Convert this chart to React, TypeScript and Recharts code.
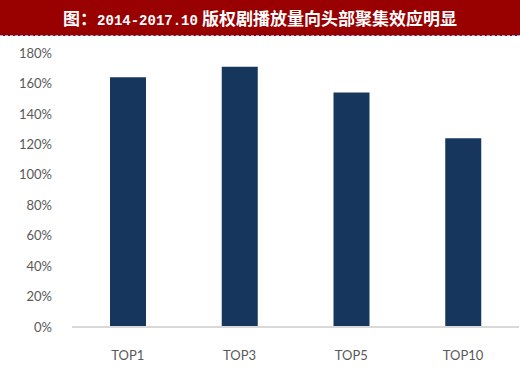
import { BarChart, Bar, XAxis, YAxis } from "recharts";

const categories = ["TOP1", "TOP3", "TOP5", "TOP10"];
const shareValues = [164, 171, 154, 124];
const yTicks = [0, 20, 40, 60, 80, 100, 120, 140, 160, 180];
const titleHead = "图：";
const titleYears = "2014-2017.10";
const titleTail = "版权剧播放量向头部聚集效应明显";

const data = categories.map((name, i) => ({ name, value: shareValues[i] }));

const tickStyle = { fill: "#595959", fontSize: 13, fontFamily: "Lato, 'Open Sans', sans-serif" };

export default function App() {
  return (
    <div
      style={{
        position: "absolute",
        left: 0,
        top: 0,
        width: 520,
        height: 372,
        background: "#fff",
      }}
    >
      <div
        style={{
          height: 35,
          background: "#990000",
          borderBottom: "1px dashed #8fb4e3",
          color: "#fff",
          fontFamily: "'Noto Sans CJK SC', sans-serif",
          fontWeight: 700,
          fontSize: 17,
          lineHeight: "35px",
          textAlign: "center",
          whiteSpace: "nowrap",
        }}
      >
        {titleHead}
        <span
          style={{
            fontFamily: "'Liberation Mono', 'DejaVu Sans Mono', monospace",
            fontSize: 14,
            marginRight: 4,
          }}
        >
          {titleYears}
        </span>
        {titleTail}
      </div>
      <BarChart
        width={520}
        height={336}
        data={data}
        margin={{ top: 17, right: 1, left: 0, bottom: 0 }}
      >
        <XAxis
          dataKey="name"
          height={45}
          tickSize={0}
          tickMargin={24}
          axisLine={{ stroke: "#d9d9d9", strokeWidth: 2 }}
          tickLine={false}
          tick={tickStyle}
        />
        <YAxis
          width={72}
          domain={[0, 180]}
          ticks={yTicks}
          tickSize={0}
          tickMargin={20}
          axisLine={false}
          tickLine={false}
          tick={tickStyle}
          tickFormatter={(v) => `${v}%`}
          interval={0}
        />
        <Bar dataKey="value" fill="#17365d" barSize={36} isAnimationActive={false} />
      </BarChart>
    </div>
  );
}
